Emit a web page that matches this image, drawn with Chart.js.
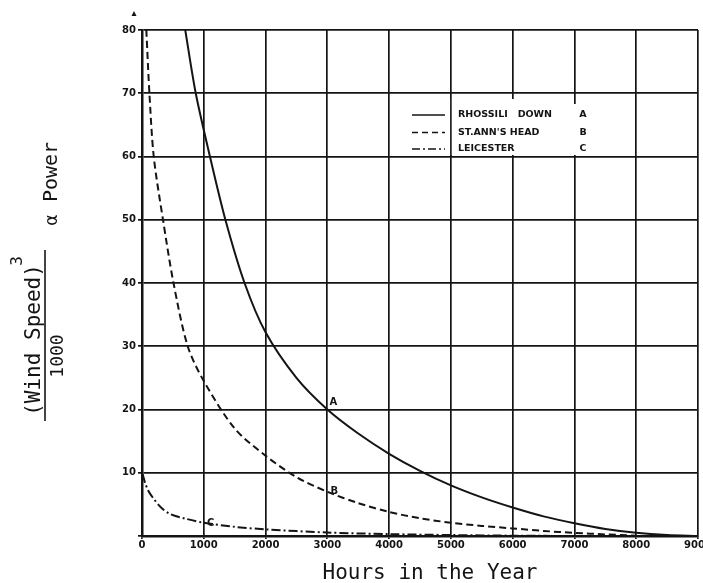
<!DOCTYPE html>
<html>
<head>
<meta charset="utf-8">
<script src="https://cdn.jsdelivr.net/npm/chart.js@4"></script>
<style>
  html, body { margin: 0; padding: 0; background: #fff; overflow: hidden; }
  #wrap { width: 738px; height: 583px; }
</style>
</head>
<body>
<div id="wrap"><canvas id="chartCanvas" width="738" height="583"></canvas></div>
<script>
"use strict";

// Hours in the year (x) and (wind speed)^3/1000 (y)
const hoursA = [700, 870, 1100, 1350, 1660, 2000, 2500, 3000, 3500, 4000, 4500, 5000, 5500, 6000, 6500, 7000, 7500, 8000, 8500, 9000];
const powerA = [80, 70, 60, 50, 40, 32.2, 25, 20, 16.2, 13, 10.3, 8, 6.1, 4.5, 3.1, 2, 1.1, 0.5, 0.15, 0];

const hoursB = [70, 120, 190, 340, 510, 740, 1000, 1500, 2000, 2500, 3000, 3500, 4000, 4500, 5000, 5500, 6000, 6500, 7000, 7500, 8000];
const powerB = [80, 70, 60, 50, 40, 30, 24.5, 17, 12.7, 9.3, 7, 5.2, 3.8, 2.8, 2.1, 1.6, 1.2, 0.8, 0.5, 0.25, 0.05];

const hoursC = [10, 50, 100, 180, 300, 450, 700, 1000, 1500, 2000, 3000, 4000, 5000, 6000, 7000];
const powerC = [9.8, 8.4, 7.2, 6.0, 4.6, 3.5, 2.75, 2.1, 1.45, 1.05, 0.55, 0.3, 0.15, 0.05, 0];

const siteNames = ["RHOSSILI   DOWN", "ST.ANN'S HEAD", "LEICESTER"];
const siteLetters = ["A", "B", "C"];
const dashStyles = [[], [7, 4], [9, 3, 2, 3]];

const xTicksMax = 9000;
const yTicksMax = 80;

const ink = "#141414";
const tickFont = { family: "DejaVu Sans", weight: "bold", size: 10 };

function toPoints(xs, ys) {
  return xs.map((h, i) => ({ x: h, y: ys[i] }));
}

const seriesPoints = [
  toPoints(hoursA, powerA),
  toPoints(hoursB, powerB),
  toPoints(hoursC, powerC)
];

const datasets = seriesPoints.map((pts, i) => ({
  label: siteNames[i],
  data: pts,
  borderColor: ink,
  borderWidth: 2,
  borderDash: dashStyles[i],
  pointRadius: 0,
  fill: false,
  tension: 0.3
}));

// titles, legend box and curve letters
const extras = {
  id: "extras",
  afterDatasetsDraw(chart) {
    const { ctx, scales } = chart;
    const x = scales.x;
    const y = scales.y;
    ctx.save();

    // legend
    ctx.fillStyle = "#fff";
    ctx.fillRect(394, 99, 178, 56);
    ctx.fillRect(572, 104, 30, 51);
    ctx.lineWidth = 1.6;
    ctx.strokeStyle = ink;
    ctx.beginPath();
    const x5 = x.getPixelForValue(5000);
    ctx.moveTo(x5, 99);
    ctx.lineTo(x5, 156);
    ctx.stroke();

    ctx.fillStyle = ink;
    ctx.font = "bold 9.5px 'DejaVu Sans'";
    ctx.textBaseline = "middle";
    const rows = [115, 132.5, 149];
    chart.data.datasets.forEach((ds, i) => {
      ctx.lineWidth = 1.6;
      ctx.setLineDash(ds.borderDash.length ? [ds.borderDash[0] - 1, ...ds.borderDash.slice(1)] : []);
      ctx.beginPath();
      ctx.moveTo(412, rows[i]);
      ctx.lineTo(445, rows[i]);
      ctx.stroke();
      ctx.setLineDash([]);
      ctx.textAlign = "left";
      ctx.fillText(ds.label, 458, rows[i]);
      ctx.textAlign = "center";
      ctx.fillText(siteLetters[i], 583, rows[i]);
    });

    // letters on the curves
    ctx.font = "bold 10px 'DejaVu Sans'";
    ctx.textAlign = "center";
    const xa = x.getPixelForValue(3000);
    ctx.fillText("A", xa + 6, y.getPixelForValue(20) - 7);
    ctx.fillText("B", xa + 7, y.getPixelForValue(7));
    ctx.fillText("C", x.getPixelForValue(1000) + 7, y.getPixelForValue(2));

    // small arrow head above the y axis
    ctx.beginPath();
    ctx.moveTo(134, 11);
    ctx.lineTo(136.5, 16);
    ctx.lineTo(131.5, 16);
    ctx.closePath();
    ctx.fill();

    // x title
    ctx.font = "21px 'DejaVu Sans Mono'";
    ctx.textBaseline = "alphabetic";
    ctx.fillText("Hours in the Year", 430, 579);

    // y title, a fraction set on its side
    ctx.save();
    ctx.rotate(-Math.PI / 2);
    ctx.textAlign = "center";
    ctx.font = "21px 'DejaVu Sans Mono'";
    ctx.fillText("(Wind Speed)", -340, 40);
    ctx.font = "16px 'DejaVu Sans Mono'";
    ctx.fillText("3", -261, 22);
    ctx.font = "18px 'DejaVu Sans Mono'";
    ctx.fillText("1000", -356, 63);
    ctx.fillText("α", -220, 57);
    ctx.font = "20px 'DejaVu Sans Mono'";
    ctx.fillText("Power", -172, 57);
    ctx.restore();

    ctx.lineWidth = 1.6;
    ctx.beginPath();
    ctx.moveTo(45, 250);
    ctx.lineTo(45, 421);
    ctx.stroke();

    ctx.restore();
  }
};

document.addEventListener("DOMContentLoaded", () => {
  const ctx = document.querySelector("#chartCanvas").getContext("2d");

  new Chart(ctx, {
    type: "line",
    data: { datasets },
    options: {
      responsive: false,
      animation: false,
      layout: { padding: { left: 0, right: 40, top: 30, bottom: 0 } },
      plugins: {
        legend: { display: false },
        tooltip: { enabled: false }
      },
      scales: {
        x: {
          type: "linear",
          min: 0,
          max: xTicksMax,
          afterFit: scale => { scale.height = 47; },
          grid: { color: ink, lineWidth: 1.7, tickLength: 3 },
          border: { color: ink, width: 2.5 },
          ticks: {
            stepSize: 1000,
            padding: 0,
            color: ink,
            font: tickFont,
            maxRotation: 0,
            callback: v => String(v)
          }
        },
        y: {
          min: 0,
          max: yTicksMax,
          afterFit: scale => { scale.width = 142; },
          grid: { color: ink, lineWidth: 1.7, tickLength: 4 },
          border: { color: ink, width: 2.5 },
          ticks: {
            stepSize: 10,
            padding: 2,
            color: ink,
            font: tickFont,
            callback: v => (v === 0 ? "" : String(v))
          }
        }
      }
    },
    plugins: [extras]
  });
});
</script>
</body>
</html>
